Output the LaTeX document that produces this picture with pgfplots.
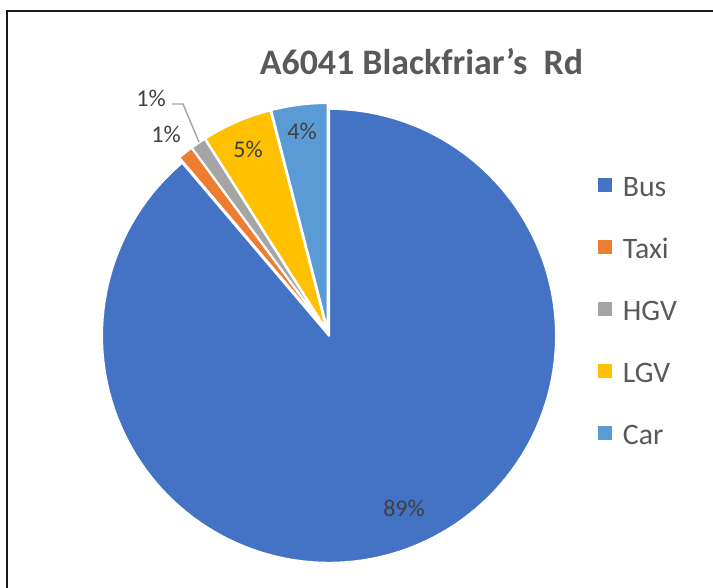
\documentclass[border=0pt]{standalone}
\usepackage{pgfplots}
\pgfplotsset{compat=1.18}
\usepackage{fontspec}
\setmainfont{Carlito}
\definecolor{cBus}{HTML}{4472C4}
\definecolor{cTaxi}{HTML}{ED7D31}
\definecolor{cHGV}{HTML}{A5A5A5}
\definecolor{cLGV}{HTML}{FFC000}
\definecolor{cCar}{HTML}{5B9BD5}
\definecolor{ttl}{HTML}{595959}
\definecolor{lbl}{HTML}{404040}
% data (percent of traffic)
\def\vBus{88.8}\def\vTaxi{1.1}\def\vHGV{1.1}\def\vLGV{5.0}\def\vCar{4.0}
% geometry in pixels
\def\cx{328}\def\cy{-333}\def\R{227}\def\ex{3}
\newcommand\slicegeom[3]{% name, cumulative start, value
  \pgfmathsetmacro\tA{90-3.6*(#2)}%
  \pgfmathsetmacro\tB{90-3.6*((#2)+(#3))}%
  \pgfmathsetmacro\tM{(\tA+\tB)/2}%
  \pgfmathsetmacro\tX{\cx+\ex*cos(\tM)}%
  \pgfmathsetmacro\tY{\cy+\ex*sin(\tM)}%
  \expandafter\xdef\csname s#1\endcsname{\tA}%
  \expandafter\xdef\csname e#1\endcsname{\tB}%
  \expandafter\xdef\csname x#1\endcsname{\tX}%
  \expandafter\xdef\csname y#1\endcsname{\tY}%
}
\begin{document}
\begin{tikzpicture}
\pgfmathsetmacro\cumA{\vBus}
\pgfmathsetmacro\cumB{\vBus+\vTaxi}
\pgfmathsetmacro\cumC{\vBus+\vTaxi+\vHGV}
\pgfmathsetmacro\cumD{\vBus+\vTaxi+\vHGV+\vLGV}
\slicegeom{Bus}{0}{\vBus}
\slicegeom{Taxi}{\cumA}{\vTaxi}
\slicegeom{HGV}{\cumB}{\vHGV}
\slicegeom{LGV}{\cumC}{\vLGV}
\slicegeom{Car}{\cumD}{\vCar}
\useasboundingbox (0,0) rectangle (534.75pt,441pt);
\begin{axis}[
  at={(0,0)}, anchor=south west,
  scale only axis, width=534.75pt, height=441pt,
  xmin=0, xmax=713, ymin=-588, ymax=0,
  hide axis, clip=false,
  legend style={draw=none, fill=none, at={(axis cs:594,-175)}, anchor=north west,
    font=\fontsize{22.3pt}{24pt}\selectfont, text=ttl,
    row sep=32.8pt, cells={anchor=west},
    nodes={inner sep=0pt, text height=0.64em, text depth=0pt, yshift=0pt}},
  legend cell align=left,
  legend image code/.code={\fill[#1,draw=none] (0pt,0pt) rectangle (10.5pt,10.5pt);},
]
\addplot[fill=cBus, draw=white, line width=1.5pt, line join=round, domain=\eBus:\sBus, samples=150, variable=\t]
  ({\xBus+\R*cos(\t)},{\yBus+\R*sin(\t)}) -- (axis cs:\xBus,\yBus) -- cycle;
\addlegendentry{\hspace{8pt}Bus}
\addplot[fill=cTaxi, draw=white, line width=1.5pt, line join=round, domain=\eTaxi:\sTaxi, samples=5, variable=\t]
  ({\xTaxi+\R*cos(\t)},{\yTaxi+\R*sin(\t)}) -- (axis cs:\xTaxi,\yTaxi) -- cycle;
\addlegendentry{\hspace{8pt}Taxi}
\addplot[fill=cHGV, draw=white, line width=1.5pt, line join=round, domain=\eHGV:\sHGV, samples=5, variable=\t]
  ({\xHGV+\R*cos(\t)},{\yHGV+\R*sin(\t)}) -- (axis cs:\xHGV,\yHGV) -- cycle;
\addlegendentry{\hspace{8pt}HGV}
\addplot[fill=cLGV, draw=white, line width=1.5pt, line join=round, domain=\eLGV:\sLGV, samples=15, variable=\t]
  ({\xLGV+\R*cos(\t)},{\yLGV+\R*sin(\t)}) -- (axis cs:\xLGV,\yLGV) -- cycle;
\addlegendentry{\hspace{8pt}LGV}
\addplot[fill=cCar, draw=white, line width=1.5pt, line join=round, domain=\eCar:\sCar, samples=12, variable=\t]
  ({\xCar+\R*cos(\t)},{\yCar+\R*sin(\t)}) -- (axis cs:\xCar,\yCar) -- cycle;
\addlegendentry{\hspace{8pt}Car}
% title
\node[anchor=base, text=ttl, font=\fontsize{26.9pt}{30pt}\selectfont\bfseries] at (axis cs:421.5,-75) {A6041 Blackfriar’s\ \ Rd};
% data labels
\begin{scope}[every node/.style={anchor=base, text=lbl, font=\fontsize{18pt}{20pt}\selectfont, inner sep=0pt}]
\node at (axis cs:404,-517) {89\%};
\node at (axis cs:302,-140) {4\%};
\node at (axis cs:248,-158) {5\%};
\node at (axis cs:166,-143) {1\%};
\node at (axis cs:151,-107) {1\%};
\end{scope}
\draw[color=cHGV, line width=1.1pt] (axis cs:172,-104) -- (axis cs:183,-104) -- (axis cs:199,-142);
% chart frame
\draw[color=black!90, line width=1.6pt] (axis cs:7,-700) -- (axis cs:7,-11) -- (axis cs:800,-11);
\end{axis}
\end{tikzpicture}
\end{document}
